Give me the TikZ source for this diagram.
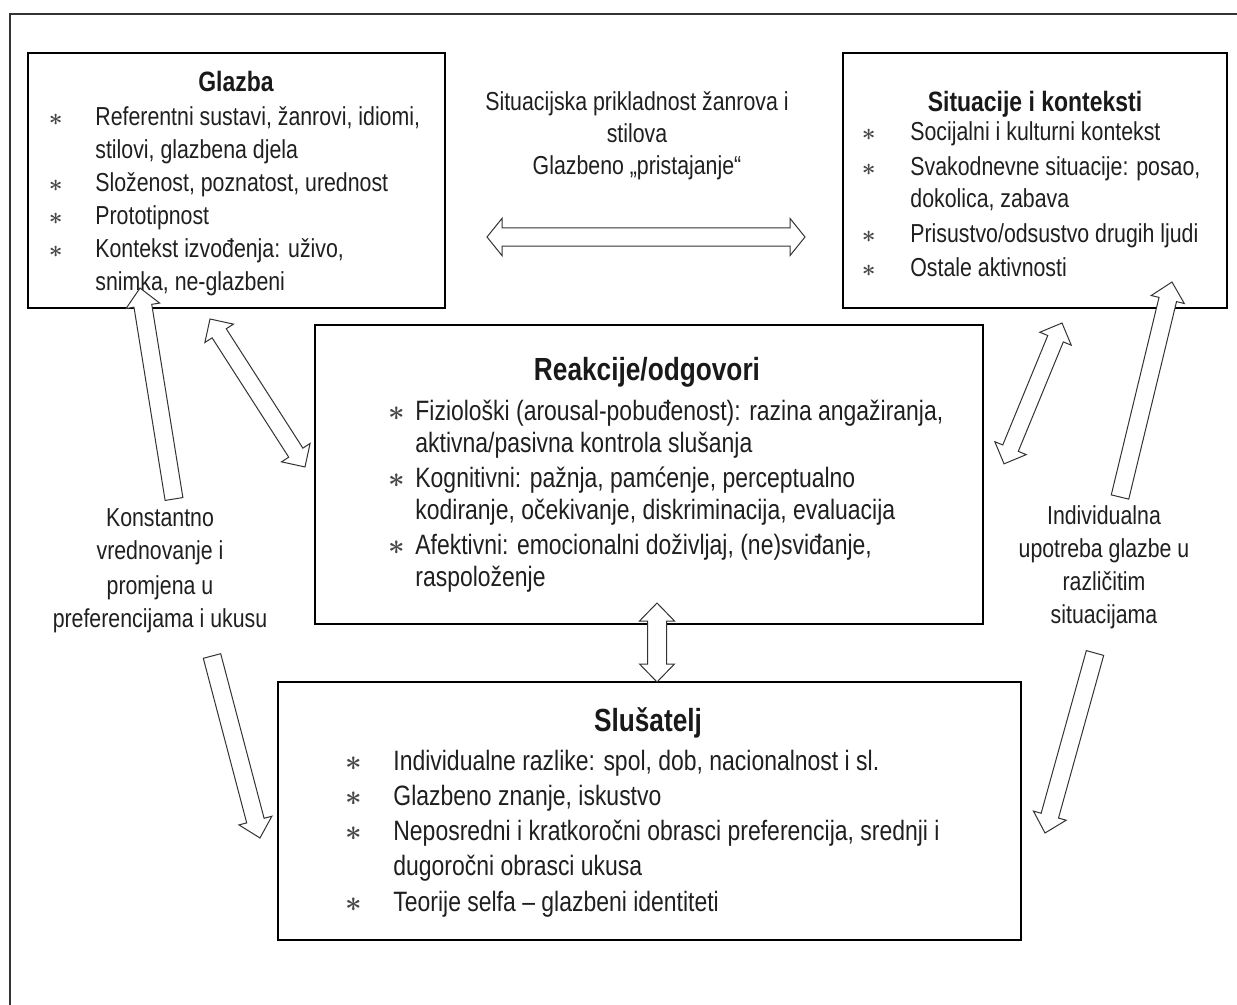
\documentclass[tikz,border=0pt]{standalone}
\usepackage{fontspec}
\setmainfont{Liberation Sans}[FakeStretch=0.82]
\usetikzlibrary{calc,fit}
\newcommand\bul{\textcolor{black!72}{\boldmath$\ast$}}
% block arrow: #1 from, #2 to, #3 = 1 single / 2 double, #4 shaft half width, #5 head half width, #6 head length
\newcommand\blkarrow[6]{%
  \path let \p1=(#1), \p2=(#2) in \pgfextra{\pgfmathsetmacro\tmpa{atan2(\y2-\y1,\x2-\x1)}\pgfmathsetmacro\tmpb{veclen(\x2-\x1,\y2-\y1)}\global\let\arang\tmpa\global\let\arlen\tmpb};
  \begin{scope}[shift={(#1)}, rotate=\arang]
  \ifnum#3=2
    \filldraw[blkarr] (0pt,0pt) -- (#6,#5) -- (#6,#4) -- ({\arlen pt-#6},#4) -- ({\arlen pt-#6},#5) -- (\arlen pt,0pt) -- ({\arlen pt-#6},-#5) -- ({\arlen pt-#6},-#4) -- (#6,-#4) -- (#6,-#5) -- cycle;
  \else
    \filldraw[blkarr] (0pt,#4) -- ({\arlen pt-#6},#4) -- ({\arlen pt-#6},#5) -- (\arlen pt,0pt) -- ({\arlen pt-#6},-#5) -- ({\arlen pt-#6},-#4) -- (0pt,-#4) -- cycle;
  \fi
  \end{scope}}
\begin{document}
\begin{tikzpicture}[x=0.5pt,y=-0.5pt,
  box/.style={draw=black, line width=1pt, inner sep=0pt},
  blkarr/.style={draw=black!80, line width=0.5pt, fill=white, line join=miter},
  ttl/.style={anchor=base, inner sep=0pt, text=black!90, font=\bfseries\fontsize{#1}{#1}\selectfont},
  itm/.style={anchor=base west, inner sep=0pt, text=black!88},
  lbl/.style={anchor=base, inner sep=0pt, text=black!88}]
\useasboundingbox (0,0) rectangle (1237,1005);
% outer frame
\draw[line width=0.8pt, black!80] (1237,14) -- (10,14) -- (10,1005);
% boxes
\node[box, fit={(28,53) (445,308)}] (glazba) {};
\node[box, fit={(843,53) (1227,308)}] (situ) {};
\node[box, fit={(315,325) (983,624)}] (reak) {};
\node[box, fit={(278,682) (1021,940)}] (slus) {};
% arrow end points
\coordinate (hA) at (487,237); \coordinate (hB) at (805,237);
\coordinate (vA) at (657,603); \coordinate (vB) at (657,682);
\coordinate (grA) at (210,319); \coordinate (grB) at (305,467);
\coordinate (srA) at (1062,323); \coordinate (srB) at (1004,464);
\coordinate (luA) at (174,499); \coordinate (luB) at (140,288);
\coordinate (ldA) at (212,656); \coordinate (ldB) at (260,838);
\coordinate (ruA) at (1120,497); \coordinate (ruB) at (1172,282);
\coordinate (rdA) at (1095,653); \coordinate (rdB) at (1045,833);
% arrows
\blkarrow{hA}{hB}{2}{4.6pt}{9.3pt}{7.5pt}
\blkarrow{vA}{vB}{2}{4.75pt}{8.75pt}{9pt}
\blkarrow{grA}{grB}{2}{4.2pt}{8.5pt}{8.5pt}
\blkarrow{srA}{srB}{2}{4.2pt}{8.5pt}{8.5pt}
\blkarrow{luA}{luB}{1}{4.5pt}{8.5pt}{9pt}
\blkarrow{ldA}{ldB}{1}{4.5pt}{8.5pt}{9pt}
\blkarrow{ruA}{ruB}{1}{4.5pt}{8.5pt}{9pt}
\blkarrow{rdA}{rdB}{1}{4.5pt}{8.5pt}{9pt}
% titles
\node[ttl=14] (tglazba) at (236,92) {Glazba};
\node[ttl=14] (tsitu) at (1035,112) {Situacije i konteksti};
\node[ttl=16] (treak) at (647,381) {Reakcije/odgovori};
\node[ttl=16] (tslus) at (648,731) {Slušatelj};
% item lists
\node[itm, font=\fontsize{13}{16.5}\selectfont] (iglazba) at (48.5,126) {\begin{tabular}[t]{@{}p{23.25pt}@{}l@{}}
\bul & Referentni sustavi, žanrovi, idiomi,\\
 & stilovi, glazbena djela\\
\bul & Složenost, poznatost, urednost\\
\bul & Prototipnost\\
\bul & Kontekst izvođenja: uživo,\\
 & snimka, ne-glazbeni
\end{tabular}};
\node[itm, font=\fontsize{13}{16.25}\selectfont] (isitu) at (861.5,141) {\begin{tabular}[t]{@{}p{24.25pt}@{}l@{}}
\bul & Socijalni i kulturni kontekst\\[1pt]
\bul & Svakodnevne situacije: posao,\\
 & dokolica, zabava\\[1pt]
\bul & Prisustvo/odsustvo drugih ljudi\\[1pt]
\bul & Ostale aktivnosti
\end{tabular}};
\node[itm, font=\fontsize{14}{16}\selectfont] (ireak) at (388,421) {\begin{tabular}[t]{@{}p{13.5pt}@{}l@{}}
\bul & Fiziološki (arousal-pobuđenost): razina angažiranja,\\
 & aktivna/pasivna kontrola slušanja\\[1.5pt]
\bul & Kognitivni: pažnja, pamćenje, perceptualno\\
 & kodiranje, očekivanje, diskriminacija, evaluacija\\[1.5pt]
\bul & Afektivni: emocionalni doživljaj, (ne)sviđanje,\\
 & raspoloženje
\end{tabular}};
\node[itm, font=\fontsize{14}{17.5}\selectfont] (islus) at (345,770) {\begin{tabular}[t]{@{}p{24pt}@{}l@{}}
\bul & Individualne razlike: spol, dob, nacionalnost i sl.\\
\bul & Glazbeno znanje, iskustvo\\
\bul & Neposredni i kratkoročni obrasci preferencija, srednji i\\
 & dugoročni obrasci ukusa\\[0.5pt]
\bul & Teorije selfa – glazbeni identiteti
\end{tabular}};
% free labels
\node[lbl, font=\fontsize{13}{16}\selectfont] (ltop) at (637,111) {\begin{tabular}[t]{@{}c@{}}Situacijska prikladnost žanrova i\\ stilova\\ Glazbeno „pristajanje“\end{tabular}};
\node[lbl, font=\fontsize{13}{17}\selectfont] (lleft) at (160,526) {\begin{tabular}[t]{@{}c@{}}Konstantno\\ vrednovanje i\\ promjena u\\ preferencijama i ukusu\end{tabular}};
\node[lbl, font=\fontsize{13}{16.5}\selectfont] (lright) at (1104,524) {\begin{tabular}[t]{@{}c@{}}Individualna\\ upotreba glazbe u\\ različitim\\ situacijama\end{tabular}};
\end{tikzpicture}
\end{document}
